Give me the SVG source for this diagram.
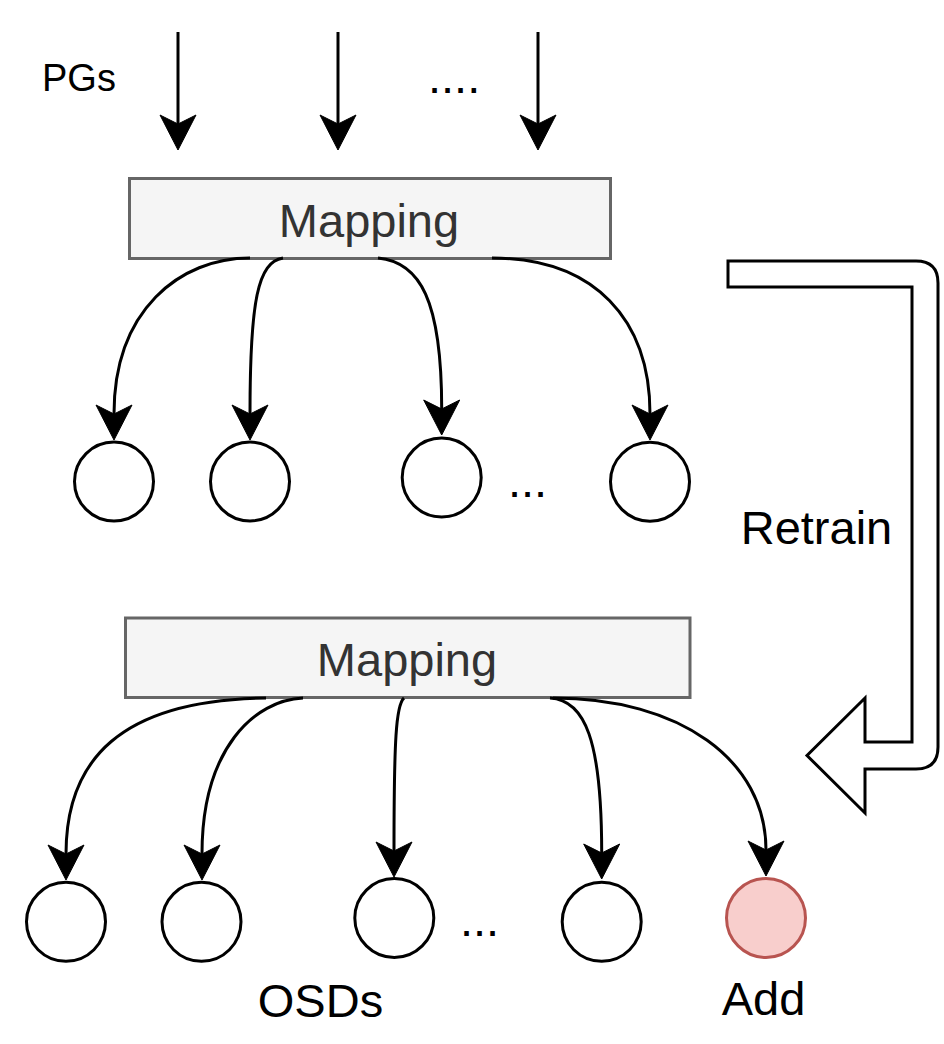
<svg xmlns="http://www.w3.org/2000/svg" width="944" height="1044" viewBox="0 0 944 1044">
  <style>
    text { font-family: "Liberation Sans", Arial, Helvetica, sans-serif; }
    .lbl { font-size: 47px; fill: #000000; }
    .map { fill: #f5f5f5; stroke: #666666; stroke-width: 3; }
    .maptxt { font-size: 47px; fill: #333333; text-anchor: middle; }
    .osd { fill: #ffffff; stroke: #000000; stroke-width: 3; }
    .add { fill: #f8cecc; stroke: #b85450; stroke-width: 3; }
    .edge { fill: none; stroke: #000000; stroke-width: 3; marker-end: url(#ah); }
  </style>
  <defs>
    <marker id="ah" markerUnits="userSpaceOnUse" viewBox="-12 -22 42 44" markerWidth="42" markerHeight="44" refX="0" refY="0" orient="auto" overflow="visible">
      <path d="M-9,-18 L26,0 L-9,18 L0,0 Z" fill="#000000" stroke="#000000" stroke-width="1"/>
    </marker>
  </defs>
  <rect width="944" height="1044" fill="#ffffff"/>

  <g id="labels">
    <text class="lbl" x="42" y="91" style="font-size:38px">PGs</text>
    <text class="lbl" x="428" y="93" style="font-size:47px">....</text>
    <text class="lbl" x="508" y="497">...</text>
    <text class="lbl" x="460" y="936">...</text>
    <text class="lbl" x="320.5" y="1017" text-anchor="middle">OSDs</text>
    <text class="lbl" x="763.5" y="1015" text-anchor="middle">Add</text>
    <text class="lbl" x="816.5" y="544" text-anchor="middle">Retrain</text>
  </g>

  <g id="mapping1">
    <rect class="map" x="129.5" y="178.5" width="481" height="80"/>
    <text class="maptxt" x="369" y="236.5">Mapping</text>
  </g>
  <g id="mapping2">
    <rect class="map" x="125.5" y="618" width="564.5" height="79.5"/>
    <text class="maptxt" x="407" y="676">Mapping</text>
  </g>

  <g id="osds-row1">
    <circle id="osd1a" class="osd" cx="114" cy="481.5" r="39.5"/>
    <circle id="osd1b" class="osd" cx="250" cy="481.5" r="39.5"/>
    <circle id="osd1c" class="osd" cx="441.7" cy="477.5" r="39.5"/>
    <circle id="osd1d" class="osd" cx="650" cy="481.7" r="39.5"/>
  </g>
  <g id="osds-row2">
    <circle id="osd2a" class="osd" cx="66" cy="921.8" r="39.5"/>
    <circle id="osd2b" class="osd" cx="201.5" cy="921.8" r="39.5"/>
    <circle id="osd2c" class="osd" cx="394.3" cy="918" r="39.5"/>
    <circle id="osd2d" class="osd" cx="601.7" cy="921.8" r="39.5"/>
    <circle id="osd2add" class="add" cx="766" cy="918" r="39.5"/>
  </g>

  <g id="retrain-arrow">
    <path d="M728,261 L916,261 Q938,261 938,283 L938,747 Q938,769 916,769 L865,769 L865,813 L807,755.5 L865,698 L865,742 L912,742 L912,287 L728,287 Z" fill="#ffffff" stroke="#000000" stroke-width="3" stroke-linejoin="miter"/>
  </g>

  <g id="connectors">
    <path class="edge" d="M178,32 L178,124"/>
    <path class="edge" d="M338,32 L338,124"/>
    <path class="edge" d="M538,32 L538,124"/>

    <path class="edge" d="M250,258 C180,258 114,310 114,414"/>
    <path class="edge" d="M283,258 C258,262 250,300 250,414"/>
    <path class="edge" d="M378,258 C420,262 441.7,300 441.7,409"/>
    <path class="edge" d="M492,258 C595,258 650,320 650,414"/>

    <path class="edge" d="M266,698 C120,700 66,760 66,854"/>
    <path class="edge" d="M303,698 C255,700 202,748 202,854"/>
    <path class="edge" d="M404,698 C396,705 394,740 394,851"/>
    <path class="edge" d="M550,698 C585,700 601.7,740 601.7,853"/>
    <path class="edge" d="M553,698 C680,698 766,760 766,850"/>
  </g>
</svg>
